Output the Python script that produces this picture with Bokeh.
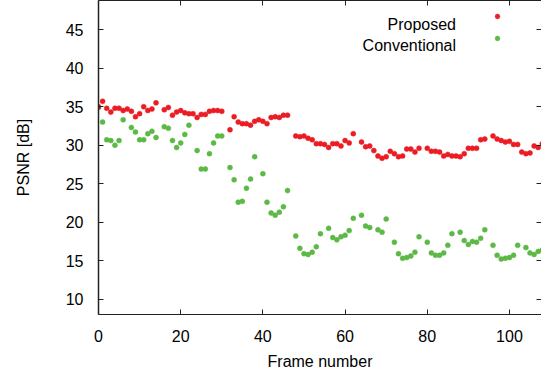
from bokeh.plotting import figure
from bokeh.models import (LinearAxis, FixedTicker, Range1d, Legend, LegendItem,
                          Label, ColumnDataSource)
from bokeh.embed import file_html
from bokeh.resources import INLINE

# ---------------- data ----------------
proposed_frames = [0, 1, 2, 3, 4, 5, 6, 7, 8, 9, 10, 11, 12, 13, 14,
                   16, 17, 18, 19, 20, 21, 22, 23, 24, 25, 26, 27, 28, 29, 30,
                   32, 33, 34, 35, 36, 37, 38, 39, 40, 41, 42, 43, 44, 45, 46,
                   48, 49, 50, 51, 52, 53, 54, 55, 56, 57, 58, 59, 60, 61, 62,
                   64, 65, 66, 67, 68, 69, 70, 71, 72, 73, 74, 75, 76, 77, 78,
                   80, 81, 82, 83, 84, 85, 86, 87, 88, 89, 90, 91, 92, 93, 94,
                   96, 97, 98, 99, 100, 101, 102, 103, 104, 105, 106, 107, 108, 109, 110]
proposed_psnr = [35.0, 35.7, 34.8, 34.3, 34.8, 34.8, 34.5, 34.7, 34.4, 33.7, 34.1, 35.0, 34.5, 34.7, 35.5,
                 34.6, 34.9, 33.9, 34.3, 34.5, 34.2, 34.1, 34.1, 33.6, 34.0, 34.0, 34.4, 34.5, 34.5, 34.4,
                 32.0, 33.7, 33.0, 32.8, 32.8, 32.6, 33.1, 33.3, 33.1, 32.8, 33.6, 33.7, 33.6, 33.9, 33.9,
                 31.2, 31.1, 31.2, 30.9, 30.7, 30.2, 30.2, 30.1, 29.7, 30.2, 30.2, 29.9, 30.6, 30.3, 31.5,
                 30.4, 29.8, 29.9, 29.3, 28.6, 28.3, 28.5, 29.2, 28.9, 28.5, 28.6, 29.5, 29.5, 29.1, 29.6,
                 29.6, 29.2, 29.2, 29.1, 28.6, 28.8, 28.6, 28.6, 28.5, 28.9, 29.6, 29.6, 29.6, 30.7, 30.8,
                 31.2, 30.8, 30.6, 30.4, 30.5, 30.1, 30.1, 29.1, 28.9, 29.0, 29.9, 29.7, 30.2, 30.6, 31.3]

conventional_frames = [0, 1, 2, 3, 4, 5, 6, 8, 9, 10, 11, 12, 13, 14,
                       16, 17, 18, 19, 20, 21, 22, 24, 25, 26, 27, 28, 29, 30,
                       32, 33, 34, 35, 36, 37, 38, 40, 41, 42, 43, 44, 45, 46,
                       48, 49, 50, 51, 52, 53, 54, 56, 57, 58, 59, 60, 61, 62,
                       64, 65, 66, 68, 69, 70, 72, 73, 74, 75, 76, 77, 78,
                       80, 81, 82, 83, 84, 85, 86, 88, 89, 90, 91, 92, 93, 94,
                       96, 97, 98, 99, 100, 101, 102, 104, 105, 106, 107, 108, 109, 110]
conventional_psnr = [34.9, 33.0, 30.7, 30.6, 30.0, 30.6, 33.3, 32.3, 31.7, 30.7, 30.7, 31.5, 31.8, 31.0,
                     32.4, 32.2, 30.6, 29.7, 30.3, 31.4, 32.6, 29.3, 26.9, 26.9, 28.9, 30.3, 31.2, 31.2,
                     27.1, 25.5, 22.6, 22.7, 24.4, 25.6, 28.5, 26.3, 22.6, 21.2, 20.9, 21.3, 22.0, 24.1,
                     18.2, 16.6, 15.9, 15.8, 16.1, 16.8, 18.5, 19.2, 18.0, 17.7, 18.1, 18.3, 18.9, 20.5,
                     20.9, 19.5, 19.3, 19.0, 18.7, 20.4, 17.4, 15.9, 15.3, 15.4, 15.6, 16.1, 18.1,
                     17.4, 16.0, 15.7, 15.7, 16.0, 17.0, 18.5, 18.7, 17.6, 17.1, 17.5, 17.4, 17.9, 19.0,
                     17.0, 15.7, 15.2, 15.3, 15.4, 15.7, 17.0, 16.7, 16.0, 15.8, 16.2, 16.4, 17.4, 19.4]

x_ticks = [0, 20, 40, 60, 80, 100]
y_ticks = [10, 15, 20, 25, 30, 35, 40, 45]
series_labels = ["Proposed", "Conventional"]
x_label = "Frame number"
y_label = "PSNR [dB]"
caption_head = "図 3"
caption_body = "画質評価結果"

RED = "#ec1c24"
GREEN = "#5cb946"
FONT = "Liberation Sans"

# ---------------- figure ----------------
p = figure(width=541, height=372, output_backend="svg", toolbar_location=None,
           title=None, x_range=Range1d(0, 107.8), y_range=Range1d(8, 48.8),
           min_border_left=98, min_border_right=0, min_border_top=0,
           min_border_bottom=57)
p.outline_line_color = None
p.xgrid.visible = False
p.ygrid.visible = False
p.background_fill_color = "white"
p.border_fill_color = "white"


def style_axis(ax, ticks, show_labels, line=True):
    ax.ticker = FixedTicker(ticks=ticks)
    ax.major_tick_in = 5
    ax.major_tick_out = 0
    ax.minor_tick_in = 0
    ax.minor_tick_out = 0
    ax.major_tick_line_color = "#222222"
    ax.axis_line_color = "#222222" if line else None
    if show_labels:
        ax.major_label_text_font = FONT
        ax.major_label_text_font_size = "16px"
        ax.major_label_text_color = "black"
    else:
        ax.major_label_text_font_size = "1px"
        ax.major_label_text_color = None
        ax.major_label_standoff = 0


style_axis(p.xaxis[0], x_ticks, True)
p.xaxis[0].major_label_standoff = 15
p.xaxis[0].axis_label = x_label
p.xaxis[0].axis_label_standoff = 8
p.xaxis[0].axis_label_text_font = FONT
p.xaxis[0].axis_label_text_font_size = "16px"
p.xaxis[0].axis_label_text_font_style = "normal"
p.xaxis[0].axis_label_text_color = "black"

style_axis(p.yaxis[0], y_ticks, True)
p.yaxis[0].axis_line_width = 1.5
p.yaxis[0].major_label_standoff = 15
p.yaxis[0].axis_label = y_label
p.yaxis[0].axis_label_standoff = 31
p.yaxis[0].axis_label_text_font = FONT
p.yaxis[0].axis_label_text_font_size = "16px"
p.yaxis[0].axis_label_text_font_style = "normal"
p.yaxis[0].axis_label_text_color = "black"

top_axis = LinearAxis()
style_axis(top_axis, x_ticks, False)
p.add_layout(top_axis, "above")

right_axis = LinearAxis()
style_axis(right_axis, y_ticks, False, line=False)
p.add_layout(right_axis, "right")

# ---------------- data points ----------------
src_conv = ColumnDataSource(dict(x=conventional_frames, y=conventional_psnr))
src_prop = ColumnDataSource(dict(x=proposed_frames, y=proposed_psnr))
r_conv = p.scatter("x", "y", source=src_conv, size=5, fill_color=GREEN,
                   line_color=GREEN, line_width=0.5)
r_prop = p.scatter("x", "y", source=src_prop, size=5, fill_color=RED,
                   line_color=RED, line_width=0.5)

# legend markers (Bokeh legend; its own labels hidden, names drawn right-aligned)
legend = Legend(items=[LegendItem(label=series_labels[0], renderers=[r_prop]),
                       LegendItem(label=series_labels[1], renderers=[r_conv])],
                location=(393, 270), padding=0, margin=0, spacing=10,
                glyph_width=12, glyph_height=12, label_height=12, label_width=1,
                label_standoff=0, label_text_font_size="8px", label_text_color=None,
                border_line_color=None, background_fill_alpha=0)
p.add_layout(legend)

for name, yb in zip(series_labels, [45.66, 42.94]):
    p.add_layout(Label(x=87.0, y=yb, text=name, text_font=FONT, text_font_size="16px",
                       text_align="right", text_baseline="alphabetic", text_color="black"))

# ---------------- caption (cut off at the bottom edge) ----------------
p.add_layout(Label(x=-16.4, y=1.35, text=caption_head, text_font="Noto Sans CJK JP",
                   text_font_size="27px", text_baseline="top", text_color="black"))
p.add_layout(Label(x=0.85, y=1.35, text=caption_body, text_font="Noto Sans CJK JP",
                   text_font_size="27px", text_baseline="top", text_color="black"))

open("out.html", "w").write(file_html(p, INLINE))
